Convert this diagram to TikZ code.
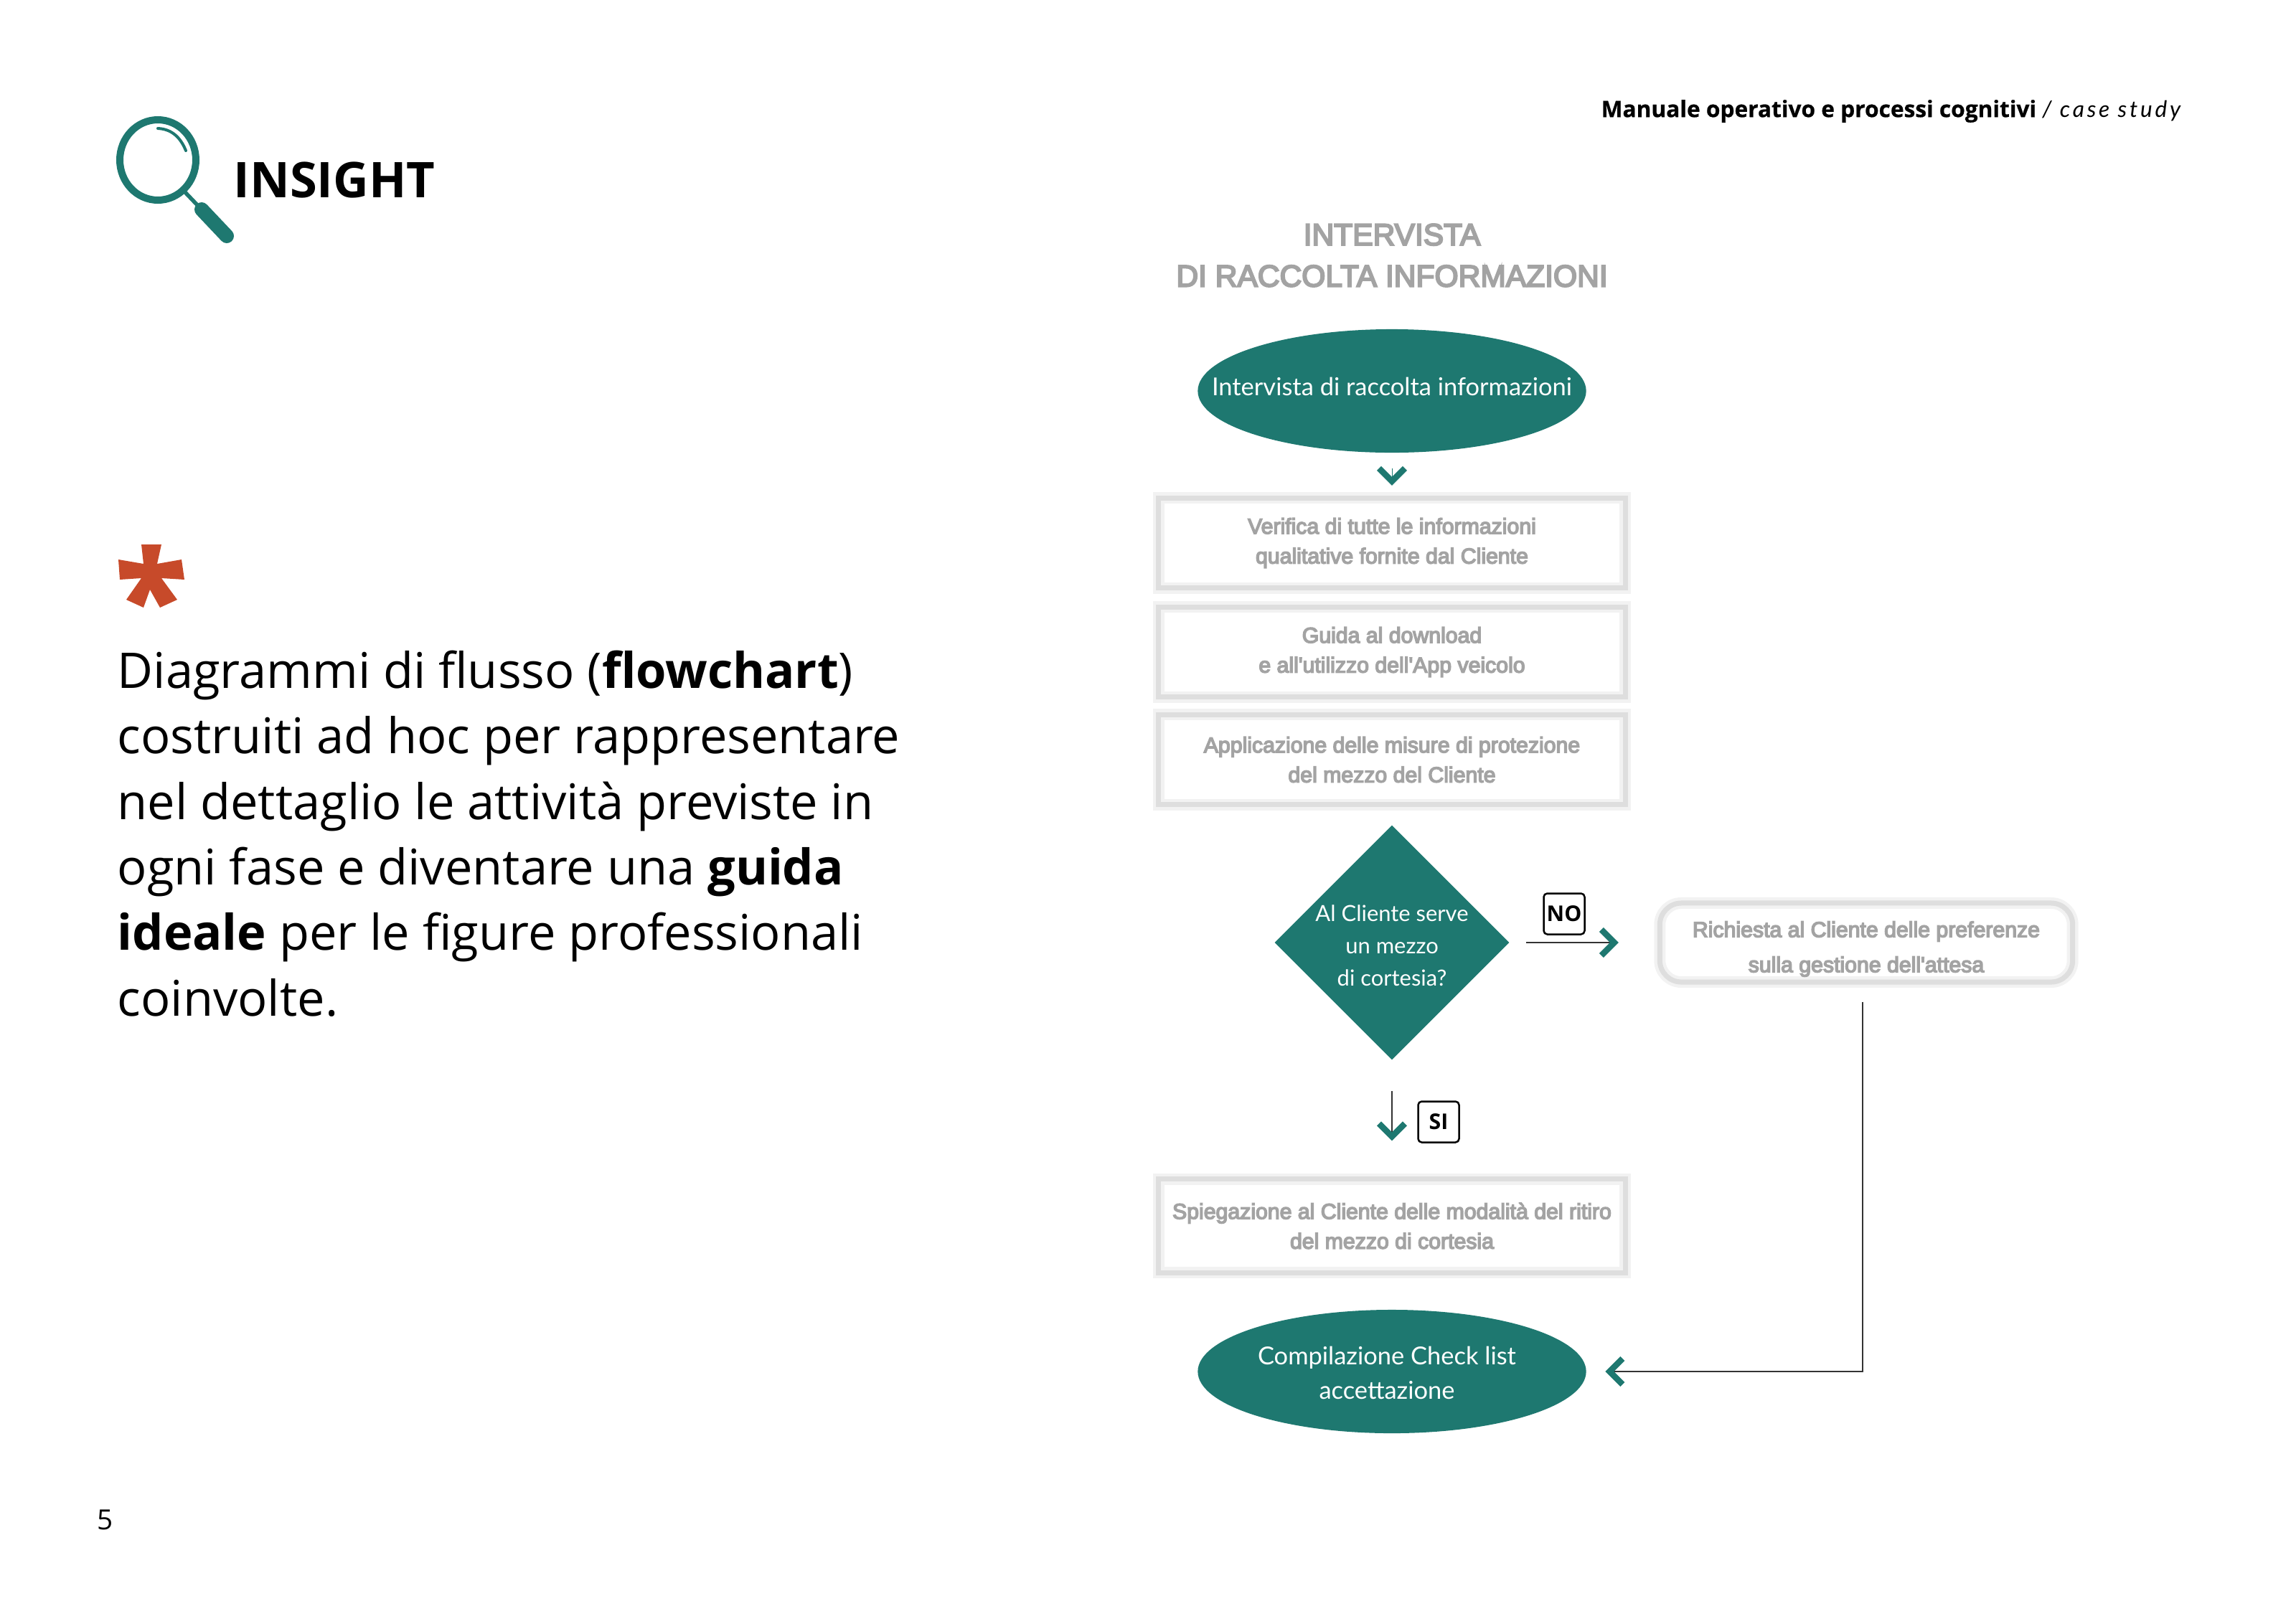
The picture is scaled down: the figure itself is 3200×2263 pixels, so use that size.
\documentclass[tikz,border=0pt]{standalone}
\usepackage{fontspec}
\usepackage{xcolor}
\usetikzlibrary{arrows.meta,shapes.geometric}
\setmainfont{Open Sans}
\newfontfamily\headfont[BoldFeatures={FakeBold=0.6}]{Open Sans}
\newfontfamily\flowfont{Lato}
\newfontfamily\casefont[LetterSpace=12]{Lato}
\newfontfamily\blurfont[FakeBold=5]{Liberation Sans}
\definecolor{flowteal}{HTML}{1E7870}
\definecolor{starred}{HTML}{C74A2A}
\tikzset{
	flowoval/.style={fill=flowteal,ellipse,minimum width=5.41cm,minimum height=1.72cm},
	flowdiamond/.style={fill=flowteal,diamond,aspect=1,minimum width=3.27cm,minimum height=3.27cm},
	ovallabel/.style={text=white,font=\flowfont\fontsize{9.8}{13.6}\selectfont,align=center},
	asklabel/.style={text=white,font=\flowfont\fontsize{8.8}{12.8}\selectfont,align=center},
	blurline/.style={draw=black!13,line width=0.07cm,preaction={draw=black!5,line width=0.16cm}},
	blurtext/.style={align=center,text=black!36,font=\blurfont\fontsize{8.6}{11.8}\selectfont},
	blurbox/.style={blurline,blurtext,minimum width=6.5cm,minimum height=1.25cm},
	blurround/.style={blurline,rounded corners=0.3cm,minimum width=5.75cm,minimum height=1.1cm},
	tagbox/.style={draw=black,line width=0.025cm,rounded corners=0.05cm,minimum width=0.57cm,minimum height=0.57cm,font=\bfseries\fontsize{8.6}{10}\selectfont},
	flowline/.style={draw=black!80,line width=0.02cm},
	chevtip/.style={-{Straight Barb[length=0.18cm,width=0.36cm,line width=0.085cm,color=flowteal]}},
}
\begin{document}
\begin{tikzpicture}[x=0.01cm,y=0.01cm]
	\tikzstyle{every node}+=[inner sep=0pt]
	\useasboundingbox (0,0) rectangle (3200,-2263);
	\draw [flowteal,line width=0.1cm] (220,-223) ellipse (53 and 56);
	\draw [flowteal,line width=0.04cm,line cap=round] (220,-179) .. controls (242,-180) and (253,-195) .. (259,-210);
	\draw [flowteal,line width=0.055cm] (258,-268) -- (278,-289);
	\draw [flowteal,line width=0.2cm,line cap=round] (281,-292) -- (316,-329);
	\fill [starred] (197,-759) -- (225,-759) -- (219,-786) -- (253,-780) -- (257,-808) -- (225,-806) -- (247,-836) -- (223,-847) -- (209,-822) -- (200,-847) -- (176,-836) -- (197,-806) -- (167,-808) -- (165,-780) -- (200,-786) -- cycle;
	\node (insight) at (325,-251) [anchor=west,font=\bfseries\fontsize{19.5}{22}\selectfont] {INSIGHT};
	\node (header) at (3040,-155) [anchor=east,font=\fontsize{9}{11}\selectfont] {{\headfont\bfseries Manuale operativo e processi cognitivi} {\casefont\itshape / case study}};
	\node (body) at (163,-906) [anchor=north west,align=left,font=\fontsize{19.5}{26}\selectfont] {Diagrammi di flusso (\textbf{flowchart})\\costruiti ad hoc per rappresentare\\nel dettaglio le attività previste in\\ogni fase e diventare una \textbf{guida}\\\textbf{ideale} per le figure professionali\\coinvolte.};
	\node (pagenum) at (147,-2119) [font=\fontsize{11}{13}\selectfont] {5};
	\node (title) at (1940,-356) [align=center,text=black!36,font=\blurfont\fontsize{12.1}{16.4}\selectfont] {INTERVISTA\\DI RACCOLTA INFORMAZIONI};
	\node [flowoval,label={[ovallabel,yshift=0.06cm]center:{Intervista di raccolta informazioni}}] (start) at (1940,-545) {};
	\node (verify) at (1940,-757) [blurbox] {Verifica di tutte le informazioni\\qualitative fornite dal Cliente};
	\node (guide) at (1940,-909) [blurbox] {Guida al download\\e all'utilizzo dell'App veicolo};
	\node (protect) at (1940,-1059) [blurbox] {Applicazione delle misure di protezione\\del mezzo del Cliente};
	\node [flowdiamond,label={[asklabel,yshift=-0.04cm]center:{Al Cliente serve\\un mezzo\\di cortesia?}}] (ask) at (1940,-1314) {};
	\node [blurround,label={[blurtext,yshift=-0.09cm,font=\blurfont\fontsize{8.6}{13.9}\selectfont]center:{Richiesta al Cliente delle preferenze\\sulla gestione dell'attesa}}] (wait) at (2601,-1314) {};
	\node (explain) at (1940,-1709) [blurbox,minimum height=1.3cm] {Spiegazione al Cliente delle modalità del ritiro\\del mezzo di cortesia};
	\node [flowoval,label={[ovallabel,xshift=-0.07cm,yshift=-0.02cm]center:{Compilazione Check list\\accettazione}}] (finish) at (1940,-1912) {};
	\node (nobox) at (2180,-1274) [tagbox] {NO};
	\node (sibox) at (2005,-1564) [tagbox] {SI};
	\draw [chevtip,flowteal,line width=0.01cm,shorten <=0.21cm,shorten >=0.14cm] (start) -- (verify);
	\draw [chevtip,flowline,shorten <=0.23cm,shorten >=0.54cm] (ask) -- (wait);
	\draw [chevtip,flowline,shorten <=0.43cm,shorten >=0.5cm] (ask) -- (explain);
	\draw [chevtip,flowline,shorten <=0.24cm,shorten >=0.26cm] ([xshift=-0.05cm]wait.south) |- (finish.east);
\end{tikzpicture}
\end{document}
